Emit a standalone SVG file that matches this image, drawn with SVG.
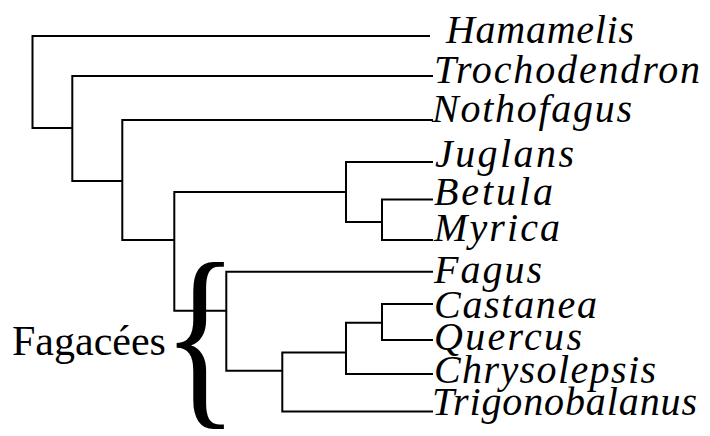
<svg xmlns="http://www.w3.org/2000/svg" width="710" height="436" viewBox="0 0 710 436">
  <style>
    .br { fill: none; stroke: #000; stroke-width: 2; stroke-linecap: butt; stroke-linejoin: miter; }
    text { font-family: 'Liberation Serif', 'Tinos', 'DejaVu Serif', serif; fill: #000; }
    .taxon { font-style: italic; font-size: 40px; }
    .group { font-size: 42px; }
    .brace { font-size: 192px; }
  </style>
  <rect width="710" height="436" fill="#fff"/>

  <!-- tree branches -->
  <g id="connectors" class="br">
    <path d="M430 36 H32.5 V128 H72.3"/>
    <path d="M433 76 H72.3 V181 H122.3"/>
    <path d="M433 120 H122.3 V240 H174.3"/>
    <path d="M346 192 H174.3 V310.7 H226.3"/>
    <path d="M433 162 H346 V222 H382"/>
    <path d="M433 199.5 H382 V240 H433"/>
    <path d="M433 271.7 H226.3 V370.7 H282.3"/>
    <path d="M346 352.5 H282.3 V411.5 H433"/>
    <path d="M382 322.7 H346 V374 H433"/>
    <path d="M433 304 H382 V340 H433"/>
  </g>

  <!-- leaf labels -->
  <g id="hamamelis"><text class="taxon" x="446" y="43" textLength="188" lengthAdjust="spacing">Hamamelis</text></g>
  <g id="trochodendron"><text class="taxon" x="434" y="83" textLength="266" lengthAdjust="spacing">Trochodendron</text></g>
  <g id="nothofagus"><text class="taxon" x="432" y="122" textLength="200" lengthAdjust="spacing">Nothofagus</text></g>
  <g id="juglans"><text class="taxon" x="435" y="167" textLength="139" lengthAdjust="spacing">Juglans</text></g>
  <g id="betula"><text class="taxon" x="434" y="205" textLength="119" lengthAdjust="spacing">Betula</text></g>
  <g id="myrica"><text class="taxon" x="434" y="241" textLength="126" lengthAdjust="spacing">Myrica</text></g>
  <g id="fagus"><text class="taxon" x="434" y="283" textLength="108" lengthAdjust="spacing">Fagus</text></g>
  <g id="castanea"><text class="taxon" x="434" y="318" textLength="163" lengthAdjust="spacing">Castanea</text></g>
  <g id="quercus"><text class="taxon" x="434" y="350" textLength="148" lengthAdjust="spacing">Quercus</text></g>
  <g id="chrysolepsis"><text class="taxon" x="434" y="383" textLength="222" lengthAdjust="spacing">Chrysolepsis</text></g>
  <g id="trigonobalanus"><text class="taxon" x="432" y="415" textLength="265" lengthAdjust="spacing">Trigonobalanus</text></g>

  <!-- family bracket -->
  <g id="fagacees">
    <text class="group" x="12" y="355">Fagacées</text>
    <text class="brace" transform="translate(162.2,401.9) scale(0.825,1.044)">{</text>
  </g>
</svg>
